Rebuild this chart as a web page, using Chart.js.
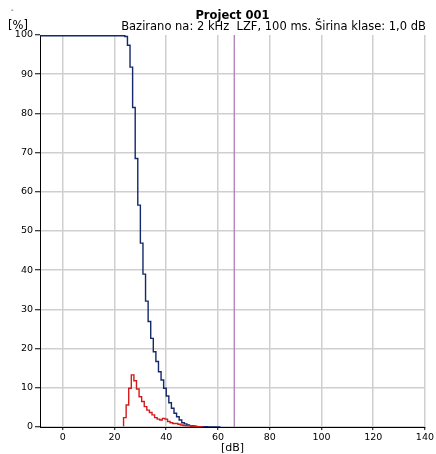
<!DOCTYPE html>
<html>
<head>
<meta charset="utf-8">
<script src="https://cdn.jsdelivr.net/npm/chart.js@4.4.1/dist/chart.umd.min.js"></script>
<style>
  html, body { margin: 0; padding: 0; background: #fff; }
  #wrap { width: 436px; height: 454px; position: relative; }
</style>
</head>
<body>
<div id="wrap"><canvas id="chart" width="436" height="454"></canvas></div>
<script>
// Level classes (dB) and the cumulative curve [%]
const cumDb = [-10, 24, 25, 26, 27, 28, 29, 30, 31, 32, 33, 34, 35, 36, 37, 38, 39, 40,
    41, 42, 43, 44, 45, 46, 47, 48, 49, 50, 51, 52, 53, 54, 55, 56, 57, 58, 59, 60, 61];
const cumValues = [100, 99.8, 99.6, 97.4, 91.8, 81.5, 68.5, 56.6, 46.9, 39.0, 32.1, 26.9, 22.6, 19.2, 16.7, 14.1, 12.0, 9.9,
    7.9, 6.2, 4.8, 3.5, 2.6, 1.8, 1.1, 0.8, 0.5, 0.35, 0.25, 0.15, 0.1, 0.08, 0.06, 0.05, 0.04, 0.03, 0.02, 0.01, 0];

// Distribution per class [%] (class centre at the integer dB)
const distDb = [23.5, 24.5, 25.5, 26.5, 27.5, 28.5, 29.5, 30.5, 31.5, 32.5, 33.5, 34.5, 35.5, 36.5, 37.5, 38.5, 39.5,
    40.5, 41.5, 42.5, 43.5, 44.5, 45.5, 46.5, 47.5, 48.5, 49.5, 50.5, 51.5, 52.5, 53.5, 54.5];
const distValues = [0.2, 2.4, 5.6, 9.9, 13.3, 11.8, 9.7, 7.7, 6.5, 5.2, 4.3, 3.7, 3.1, 2.4, 2.0, 1.8, 2.2,
    2.0, 1.4, 1.1, 0.9, 0.9, 0.7, 0.5, 0.4, 0.3, 0.3, 0.2, 0.2, 0.1, 0.1, 0];

// vertical marker level
const markerDb = 66.3;

const xTicks = [0, 20, 40, 60, 80, 100, 120, 140];
const yTicks = [0, 10, 20, 30, 40, 50, 60, 70, 80, 90, 100];

const FONT = "'DejaVu Sans', Verdana, sans-serif";

const toPoints = (xs, ys) => xs.map((x, i) => ({ x: x, y: ys[i] }));

// extra texts drawn around the plot
const labelsPlugin = {
    id: 'labels',
    afterDraw(chart) {
        const ctx = chart.ctx;
        const area = chart.chartArea;
        ctx.save();
        ctx.fillStyle = '#000';
        ctx.textBaseline = 'middle';

        ctx.font = 'bold 11.5px ' + FONT;
        ctx.textAlign = 'center';
        ctx.fillText('Project 001', (area.left + area.right) / 2, 16);

        ctx.font = '11.5px ' + FONT;
        ctx.textAlign = 'right';
        ctx.fillText('Bazirano na: 2 kHz  LZF, 100 ms. Širina klase: 1,0 dB', area.right + 1, 27);

        ctx.font = '11.5px ' + FONT;
        ctx.textAlign = 'left';
        ctx.fillText('[%]', 8, 26);

        ctx.font = '11px ' + FONT;
        ctx.textAlign = 'center';
        ctx.fillText('[dB]', (area.left + area.right) / 2, 448);

        ctx.font = '7px ' + FONT;
        ctx.textAlign = 'left';
        ctx.fillText('-', 11, 10);
        ctx.restore();
    }
};

new Chart(document.getElementById('chart'), {
    type: 'line',
    data: {
        datasets: [
            {
                label: 'marker',
                data: [{ x: markerDb, y: 0 }, { x: markerDb, y: 100 }],
                borderColor: 'rgb(175, 125, 185)',
                borderWidth: 1.3,
                pointRadius: 0
            },
            {
                label: 'distribution',
                data: toPoints(distDb, distValues),
                borderColor: '#d41a1a',
                borderWidth: 1.4,
                stepped: 'after',
                pointRadius: 0
            },
            {
                label: 'cumulative',
                data: toPoints(cumDb, cumValues),
                borderColor: '#13296b',
                borderWidth: 1.4,
                stepped: 'after',
                pointRadius: 0
            }
        ]
    },
    options: {
        responsive: false,
        animation: false,
        layout: { padding: { left: 0, right: 11, top: 35, bottom: 0 } },
        plugins: {
            legend: { display: false },
            tooltip: { enabled: false }
        },
        scales: {
            x: {
                type: 'linear',
                min: -8.8,
                max: 140,
                afterBuildTicks: scale => { scale.ticks = xTicks.map(v => ({ value: v })); },
                afterFit: scale => { scale.height = 27; },
                border: { color: '#000', width: 1 },
                grid: {
                    color: '#cfcfcf',
                    lineWidth: 1.5,
                    tickColor: '#000',
                    tickLength: 3,
                    tickWidth: 1
                },
                ticks: {
                    font: { family: FONT, size: 9.5 },
                    color: '#000',
                    padding: 2,
                    maxRotation: 0
                }
            },
            y: {
                min: 0,
                max: 100,
                afterBuildTicks: scale => { scale.ticks = yTicks.map(v => ({ value: v })); },
                afterFit: scale => { scale.width = 40; },
                border: { color: '#000', width: 1 },
                grid: {
                    color: ctx => (ctx.tick && ctx.tick.value === 100) ? 'rgba(0,0,0,0)' : '#cfcfcf',
                    lineWidth: 1.5,
                    tickColor: '#000',
                    tickLength: 5,
                    tickWidth: 1
                },
                ticks: {
                    font: { family: FONT, size: 9.5 },
                    color: '#000',
                    padding: 2
                }
            }
        }
    },
    plugins: [labelsPlugin]
});
</script>
</body>
</html>
